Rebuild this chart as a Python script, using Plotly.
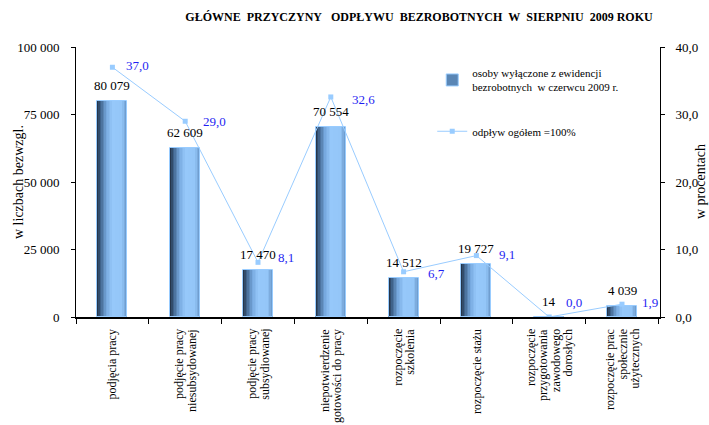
import plotly.graph_objects as go

# ---------------- data ----------------
categories = [
    "podjęcia pracy",
    "podjęcie pracy<br>niesubsydowanej",
    "podjęcie pracy<br>subsydiowanej",
    "niepotwierdzenie<br>gotowości do pracy",
    "rozpoczęcie<br>szkolenia",
    "rozpoczęcie stażu",
    "rozpoczęcie<br>przygotowania<br>zawodowego<br>dorosłych",
    "rozpoczęcie prac<br>społecznie<br>użytecznych",
]
counts = [80079, 62609, 17470, 70554, 14512, 19727, 14, 4039]
count_labels = ["80\u00a0079", "62\u00a0609", "17\u00a0470", "70\u00a0554", "14\u00a0512", "19\u00a0727", "14", "4\u00a0039"]
percents = [37.0, 29.0, 8.1, 32.6, 6.7, 9.1, 0.0, 1.9]
percent_labels = ["37,0", "29,0", "8,1", "32,6", "6,7", "9,1", "0,0", "1,9"]
left_ticks = [0, 25000, 50000, 75000, 100000]
right_ticks = [0, 10, 20, 30, 40]

title_text = "GŁÓWNE\u00a0\u00a0PRZYCZYNY\u00a0\u00a0\u00a0ODPŁYWU\u00a0\u00a0BEZROBOTNYCH\u00a0\u00a0W\u00a0\u00a0SIERPNIU\u00a0\u00a02009\u00a0ROKU"
bar_name = "osoby wyłączone z ewidencji<br>bezrobotnych\u00a0\u00a0w czerwcu 2009 r."
line_name = "odpływ ogółem =100%"

# ---------------- styles ----------------
FONT = "Liberation Serif"
BAR_W = 0.41
N_SLICES = 20
stops = [(0.0, (30, 42, 58)), (0.12, (62, 96, 136)), (0.32, (118, 168, 222)),
         (0.52, (150, 200, 250)), (0.84, (148, 198, 248)), (1.0, (104, 150, 200))]
LINE_COL = "#99ccff"
PCT_COL = "#1f1ff2"


def grad(t):
    for (t0, c0), (t1, c1) in zip(stops[:-1], stops[1:]):
        if t0 <= t <= t1:
            f = (t - t0) / (t1 - t0) if t1 > t0 else 0
            c = [round(a + (b - a) * f) for a, b in zip(c0, c1)]
            return "rgb(%d,%d,%d)" % tuple(c)
    return "rgb(%d,%d,%d)" % stops[-1][1]


fig = go.Figure()

sw = BAR_W / N_SLICES
for k in range(N_SLICES):
    t = (k + 0.5) / N_SLICES
    fig.add_trace(go.Bar(
        x=categories, y=counts, width=[sw * 1.05] * len(categories),
        offset=-BAR_W / 2 + k * sw,
        marker=dict(color=grad(t), line=dict(width=0)),
        showlegend=False, hoverinfo="skip",
    ))

# outline
fig.add_trace(go.Bar(
    x=categories, y=counts, width=[BAR_W] * len(categories), offset=-BAR_W / 2,
    marker=dict(color="rgba(0,0,0,0)", line=dict(color=LINE_COL, width=1)),
    showlegend=False, hoverinfo="skip",
))

# legend entry for bars
fig.add_trace(go.Bar(
    x=[categories[0]], y=[None], name=bar_name, legendgroup="a",
    marker=dict(color="#5a86b5", line=dict(color=LINE_COL, width=1)),
))

fig.add_trace(go.Scatter(
    x=categories, y=percents, yaxis="y2", mode="lines+markers", name=line_name,
    legendgroup="b",
    line=dict(color=LINE_COL, width=1),
    marker=dict(symbol="square", size=5, color=LINE_COL),
))

annotations = []
for c, v, lab in zip(categories, counts, count_labels):
    annotations.append(dict(x=c, y=v, xref="x", yref="y", text=lab, showarrow=False,
                            yanchor="bottom", yshift=6,
                            font=dict(family=FONT, size=13, color="black")))

pct_dy = [2, 0, 5, -3, -2, 1, 15, 2]
pct_dx = [12, 16, 18, 19, 22, 21, 15, 18]
for c, v, lab, dy, dx in zip(categories, percents, percent_labels, pct_dy, pct_dx):
    annotations.append(dict(x=c, y=v, xref="x", yref="y2", text=lab, showarrow=False,
                            xanchor="left", yanchor="middle", xshift=dx, yshift=dy,
                            font=dict(family=FONT, size=13, color=PCT_COL)))

# category labels (rotated, lines centred)
for c in categories:
    lines = c.split("<br>")
    n = len(lines)
    for i, ln in enumerate(lines):
        annotations.append(dict(x=c, y=0, xref="x", yref="paper", text=ln, showarrow=False,
                                textangle=-90, xanchor="center", yanchor="top",
                                xshift=(i - (n - 1) / 2) * 12.5, yshift=-10,
                                font=dict(family=FONT, size=12, color="black")))

annotations.append(dict(x=0, y=0.5, xref="paper", yref="paper", xshift=-58, text="w liczbach bezwzgl.",
                        textangle=-90, showarrow=False, xanchor="center", yanchor="middle",
                        font=dict(family=FONT, size=14, color="black")))
annotations.append(dict(x=1, y=0.5, xref="paper", yref="paper", xshift=40, text="w procentach",
                        textangle=-90, showarrow=False, xanchor="center", yanchor="middle",
                        font=dict(family=FONT, size=14, color="black")))

fig.update_layout(
    width=709, height=425,
    margin=dict(l=76, r=49, t=47, b=108),
    paper_bgcolor="white", plot_bgcolor="white",
    separators=", ",
    barmode="overlay",
    bargap=0,
    title=dict(text=title_text, x=419 / 709, xref="container", xanchor="center",
               y=1 - 17 / 425, yanchor="middle",
               font=dict(family=FONT, size=12, color="black", weight="bold")),
    font=dict(family=FONT, size=13, color="black"),
    xaxis=dict(type="category", showline=True, linecolor="black", linewidth=2,
               ticks="outside", tickson="boundaries", ticklen=5, tickcolor="black",
               showticklabels=False, showgrid=False, zeroline=False),
    yaxis=dict(range=[0, 100000], tickvals=left_ticks, tickformat=",d",
               showline=True, linecolor="black", linewidth=1,
               ticks="outside", ticklen=4, tickcolor="black", ticklabelstandoff=9,
               showgrid=False, zeroline=False,
               tickfont=dict(family=FONT, size=13, color="black")),
    yaxis2=dict(range=[0, 40], tickvals=right_ticks, tickformat=".1f",
                overlaying="y", side="right",
                showline=True, linecolor="black", linewidth=1,
                ticks="outside", ticklen=4, tickcolor="black", ticklabelstandoff=8,
                showgrid=False, zeroline=False,
                tickfont=dict(family=FONT, size=13, color="black")),
    legend=dict(x=0.61, y=0.955, xanchor="left", yanchor="top",
                bgcolor="rgba(0,0,0,0)", tracegroupgap=26,
                font=dict(family=FONT, size=11, color="black")),
    annotations=annotations,
)

fig.write_html("out.html", config={"displayModeBar": False},
               post_script="document.body.style.margin='0';")
